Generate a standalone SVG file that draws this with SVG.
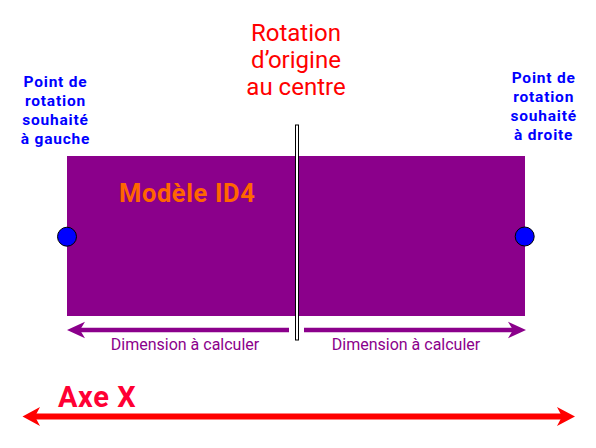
<svg xmlns="http://www.w3.org/2000/svg" width="596" height="448" viewBox="0 0 596 448">
<style>
.lbl{font-family:Roboto,"Liberation Sans",sans-serif;font-weight:bold;font-size:15.5px;fill:#0000ff;letter-spacing:0.8px;text-anchor:middle}
.title{font-family:Roboto,"Liberation Sans",sans-serif;font-size:24px;fill:#ff0000;text-anchor:middle}
.dim{font-family:Roboto,"Liberation Sans",sans-serif;font-size:16px;fill:#8b008b;text-anchor:middle}
.pt{fill:#0000ff;stroke:#000;stroke-width:1}
</style>
<rect width="596" height="448" fill="#fff"/>
<g id="model">
<rect x="67" y="156" width="458" height="160" fill="#8b008b"/>
<text x="119" y="202" font-family="Roboto,'Liberation Sans',sans-serif" font-weight="bold" font-size="25.5" fill="#ff6600" letter-spacing="0.6">Modèle ID4</text>
</g>
<g id="axis-center">
<rect x="295.5" y="125" width="3" height="215" fill="#fff" stroke="#000" stroke-width="1"/>
</g>
<g id="title">
<text class="title"><tspan x="296" y="41">Rotation</tspan><tspan x="296" y="68">d’origine</tspan><tspan x="296" y="95">au centre</tspan></text>
</g>
<g id="left-point">
<text class="lbl"><tspan x="55.5" y="87">Point de</tspan><tspan x="55.5" y="106">rotation</tspan><tspan x="55.5" y="125">souhaité</tspan><tspan x="55.5" y="144">à gauche</tspan></text>
<circle class="pt" cx="67" cy="236.7" r="9.5"/>
</g>
<g id="right-point">
<text class="lbl"><tspan x="543.7" y="83">Point de</tspan><tspan x="543.7" y="102">rotation</tspan><tspan x="543.7" y="121">souhaité</tspan><tspan x="543.7" y="140">à droite</tspan></text>
<circle class="pt" cx="524.7" cy="236.5" r="9.5"/>
</g>
<g id="connectors">
<line x1="80" y1="330" x2="289" y2="330" stroke="#8b008b" stroke-width="4.3"/>
<path d="M67,330 L85,321.7 L80,330 L85,338.3 Z" fill="#8b008b"/>
<line x1="304" y1="330" x2="513" y2="330" stroke="#8b008b" stroke-width="4.3"/>
<path d="M526,330 L508,321.7 L513,330 L508,338.3 Z" fill="#8b008b"/>
<line x1="35" y1="416.5" x2="563" y2="416.5" stroke="#ff0000" stroke-width="6"/>
<path d="M22.5,416.5 L40,407 L35,416.5 L40,426 Z" fill="#ff0000"/>
<path d="M575,416.5 L557,407 L562,416.5 L557,426 Z" fill="#ff0000"/>
</g>
<g id="labels">
<text class="dim" x="185" y="350">Dimension à calculer</text>
<text class="dim" x="406" y="350">Dimension à calculer</text>
<text x="58" y="406.5" font-family="Roboto,'Liberation Sans',sans-serif" font-weight="bold" font-size="29" fill="#ff0033" letter-spacing="0.6">Axe X</text>
</g>
</svg>
